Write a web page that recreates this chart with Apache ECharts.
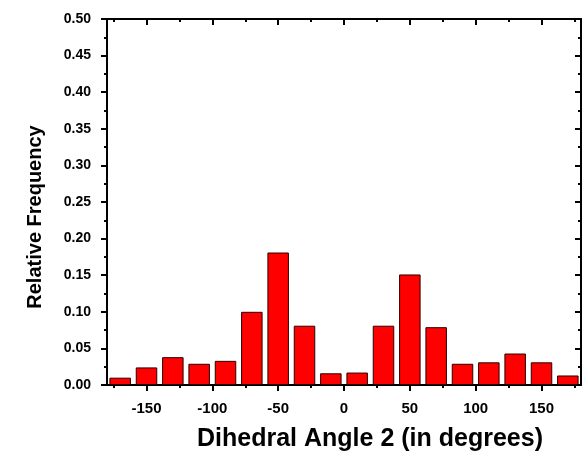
<!DOCTYPE html>
<html>
<head>
<meta charset="utf-8">
<script src="https://cdn.jsdelivr.net/npm/echarts@6/dist/echarts.min.js"></script>
<style>html,body{margin:0;padding:0;background:#fff}#c{width:583px;height:457px}</style>
</head>
<body>
<div id="c"></div>
<script>
// Bin centres (degrees) and relative frequencies
var binCenters = [-170, -150, -130, -110, -90, -70, -50, -30, -10, 10, 30, 50, 70, 90, 110, 130, 150, 170];
var frequencies = [0.010, 0.024, 0.038, 0.029, 0.033, 0.100, 0.181, 0.081, 0.016, 0.017, 0.081, 0.151, 0.079, 0.029, 0.031, 0.043, 0.031, 0.013];
var xMajorTicks = [-150, -100, -50, 0, 50, 100, 150];
var xMinorTicks = [-175, -125, -75, -25, 25, 75, 125, 175];
var xTitle = 'Dihedral Angle 2 (in degrees)';
var yTitle = 'Relative Frequency';

var font = 'Liberation Sans, Arial, sans-serif';
var chart = echarts.init(document.getElementById('c'), null, {renderer: 'canvas'});
var lineStyle = {color: '#000', width: 2};

function xAx(pos, ticks, len, inside, labels, showLine) {
  return {
    type: 'value', position: pos, min: -180, max: 180,
    axisLine: {show: showLine, onZero: false, lineStyle: lineStyle},
    axisTick: {show: true, customValues: ticks, length: len, inside: inside, lineStyle: lineStyle},
    axisLabel: labels ? {show: true, customValues: ticks, color: '#000', fontFamily: font, fontWeight: 'bold', fontSize: 15, margin: 16} : {show: false},
    splitLine: {show: false}
  };
}

var xAxes = [
  xAx('bottom', xMajorTicks, 6, false, true, true),
  xAx('bottom', xMinorTicks, 3, false, false, false),
  xAx('top', xMajorTicks, 6, true, false, true),
  xAx('top', xMinorTicks, 3, true, false, false)
];
xAxes[0].name = xTitle;
xAxes[0].nameLocation = 'middle';
xAxes[0].nameGap = 42;
xAxes[0].nameTextStyle = {color: '#000', fontFamily: font, fontWeight: 'bold', fontSize: 25, padding: [0, 0, 0, 52]};

var yAxes = [
  {
    type: 'value', position: 'left', min: 0, max: 0.5, interval: 0.05,
    name: yTitle, nameLocation: 'middle', nameGap: 62, nameRotate: 90,
    nameTextStyle: {color: '#000', fontFamily: font, fontWeight: 'bold', fontSize: 20, padding: [0, 30, 0, 0]},
    axisLine: {show: true, onZero: false, lineStyle: lineStyle},
    axisTick: {show: true, length: 6, inside: false, lineStyle: lineStyle},
    minorTick: {show: true, splitNumber: 2, length: 3, lineStyle: lineStyle},
    axisLabel: {color: '#000', fontFamily: font, fontWeight: 'bold', fontSize: 14, margin: 16,
      formatter: function (v) { return v.toFixed(2); }},
    splitLine: {show: false}
  },
  {
    type: 'value', position: 'right', min: 0, max: 0.5, interval: 0.05,
    axisLine: {show: true, onZero: false, lineStyle: lineStyle},
    axisTick: {show: true, length: 6, inside: true, lineStyle: lineStyle},
    minorTick: {show: true, splitNumber: 2, length: 3, lineStyle: lineStyle},
    axisLabel: {show: false},
    splitLine: {show: false}
  }
];

var barData = binCenters.map(function (c, i) { return [c, frequencies[i]]; });

chart.setOption({
  animation: false,
  backgroundColor: '#fff',
  grid: {left: 107, top: 19, width: 474, height: 367},
  xAxis: xAxes,
  yAxis: yAxes,
  series: [{
    type: 'bar', xAxisIndex: 0, yAxisIndex: 0,
    data: barData,
    barWidth: 21.5,
    itemStyle: {color: '#ff0000', borderColor: '#2a0000', borderWidth: 1}
  }]
});
</script>
</body>
</html>
